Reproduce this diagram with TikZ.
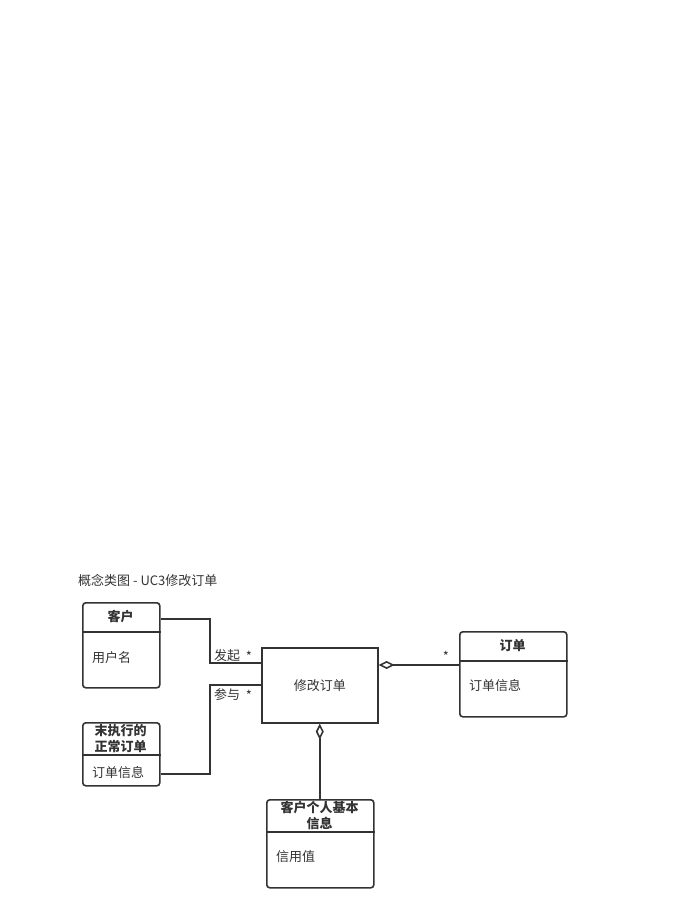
\documentclass[tikz,border=0pt]{standalone}
\usepackage{fontspec}
\setmainfont{Noto Sans CJK SC}
\usepackage{tikz}
\usetikzlibrary{arrows.meta}
\definecolor{ink}{HTML}{333333}

\begin{document}
\begin{tikzpicture}[x=1pt, y=-1pt, font=\fontsize{13pt}{16pt}\selectfont, ink,
  cls/.style={draw=ink, line width=1.6pt, rounded corners=3pt, inner sep=0pt, anchor=north west},
  act/.style={draw=ink, line width=1.6pt, inner sep=0pt, anchor=north west},
  link/.style={draw=ink, line width=1.6pt},
  agg/.style={link, {Diamond[open, length=16pt, width=8pt]}-},
  head/.style={font=\fontsize{13pt}{16pt}\selectfont\bfseries, align=center, inner sep=0pt},
  attr/.style={anchor=west, inner sep=0pt}]
\useasboundingbox (0,0) rectangle (694,918);

\node[anchor=west, inner sep=0pt] (title) at (78,580) {概念类图 - UC3修改订单};

% classes
\node[cls, minimum width=77pt, minimum height=85pt] (kehu) at (82,602) {};
\draw[link] (kehu.west |- 0,632) -- (kehu.east |- 0,632);
\node[head] (kehuName) at (120.5,617) {客户};
\node[attr] (kehuAttr) at (92,658) {用户名};

\node[cls, minimum width=77pt, minimum height=63pt] (weizx) at (82,722) {};
\draw[link] (weizx.west |- 0,755) -- (weizx.east |- 0,755);
\node[head] (weizxName) at (120.5,739) {末执行的\\正常订单};
\node[attr] (weizxAttr) at (92,773) {订单信息};

\node[act, minimum width=116pt, minimum height=75pt] (xiugai) at (261,647) {};
\node (xiugaiName) at (xiugai.center) {修改订单};

\node[cls, minimum width=107pt, minimum height=85pt] (dingdan) at (459,631) {};
\draw[link] (dingdan.west |- 0,661) -- (dingdan.east |- 0,661);
\node[head] (dingdanName) at (512.5,646) {订单};
\node[attr] (dingdanAttr) at (469,686) {订单信息};

\node[cls, minimum width=107pt, minimum height=88pt] (xinxi) at (266,799) {};
\draw[link] (xinxi.west |- 0,832) -- (xinxi.east |- 0,832);
\node[head] (xinxiName) at (319.5,815) {客户个人基本\\信息};
\node[attr] (xinxiAttr) at (276,857) {信用值};

% associations
\draw[link] (kehu.east |- 0,619) -- (210,619) |- (xiugai.west |- 0,663);
\draw[link] (weizx.east |- 0,774) -- (210,774) |- (xiugai.west |- 0,685);
\node (faqi) at (227,656) {发起};
\node (faqiM) at (249,656) {*};
\node (canyu) at (227,695) {参与};
\node (canyuM) at (249,695) {*};

% aggregations
\draw[agg] (xiugai.east |- 0,665) -- (dingdan.west |- 0,665);
\node (dingdanM) at (446,656) {*};
\draw[agg] (xiugai.south) -- (xinxi.north -| xiugai.south);
\end{tikzpicture}
\end{document}
